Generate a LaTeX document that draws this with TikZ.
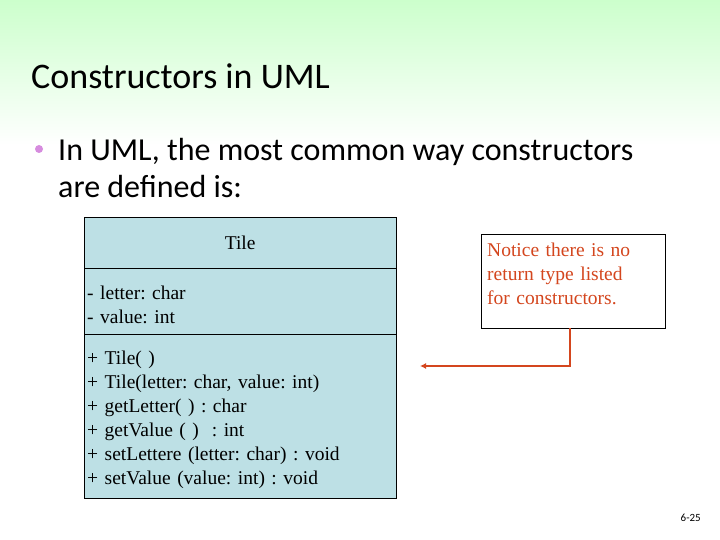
\documentclass[tikz,border=0pt]{standalone}
\usepackage{fontspec}
\usetikzlibrary{arrows.meta}
\setmainfont{Carlito}
\newfontfamily\umlfont{Liberation Serif}
\definecolor{headgreen}{RGB}{204,255,204}
\definecolor{classblue}{RGB}{189,224,229}
\definecolor{noteorange}{RGB}{212,70,30}
\definecolor{bulletpink}{RGB}{214,140,222}
\tikzset{
  compartment/.style={draw, fill=classblue, anchor=north west, minimum width=312pt,
    text width=306pt, inner xsep=2pt, inner ysep=0pt,
    execute at end node={\par\vspace*{-7pt}},
    font=\umlfont\frenchspacing\fontsize{19.5}{24}\selectfont},
  note/.style={draw, fill=white, anchor=north west, minimum width=184pt, minimum height=94pt,
    text width=172pt, align=left, inner xsep=6pt, inner ysep=4pt, text=noteorange,
    execute at end node={\par\vspace*{14pt}},
    font=\umlfont\frenchspacing\fontsize{19.5}{24}\selectfont}
}
\begin{document}
\begin{tikzpicture}[x=1pt,y=-1pt]
  \useasboundingbox (0,0) rectangle (720,540);
  \shade[top color=headgreen, bottom color=white] (0,0) rectangle (720,145);
  \node[anchor=base west, font=\fontsize{36}{43}\selectfont, inner sep=0pt] (title) at (31,89) {Constructors in UML};
  \fill[bulletpink] (39,149) circle (4);
  \node[anchor=base west, font=\fontsize{32}{37}\selectfont, inner sep=0pt, align=left] (intro) at (58,198)
    {In UML, the most common way constructors\\are defined is:};
  \node[compartment, minimum height=51pt, align=center] (name) at (84,217) {Tile};
  \node[compartment, minimum height=66pt, align=left] (attrs) at (84,268)
    {- letter: char\\- value: int};
  \node[compartment, minimum height=164pt, align=left] (ops) at (84,334)
    {+ Tile( )\\+ Tile(letter: char, value: int)\\+ getLetter( ) : char\\+ getValue ( )~ : int\\+ setLettere (letter: char) : void\\+ setValue (value: int) : void};
  \node[note] (notice) at (481,234) {Notice there is no\\return type listed\\for constructors.};
  \coordinate (bend) at (570,366);
  \coordinate (target) at (420,366);
  \node[anchor=base east, font=\fontsize{11}{13}\selectfont, inner sep=0pt] (page) at (701,521) {6-25};
  \begin{scope}[draw=noteorange, line width=2.5pt, -{Latex[length=6pt,width=6pt]}]
    \draw (notice.south -| bend) -- (bend) -- (target);
  \end{scope}
\end{tikzpicture}
\end{document}
